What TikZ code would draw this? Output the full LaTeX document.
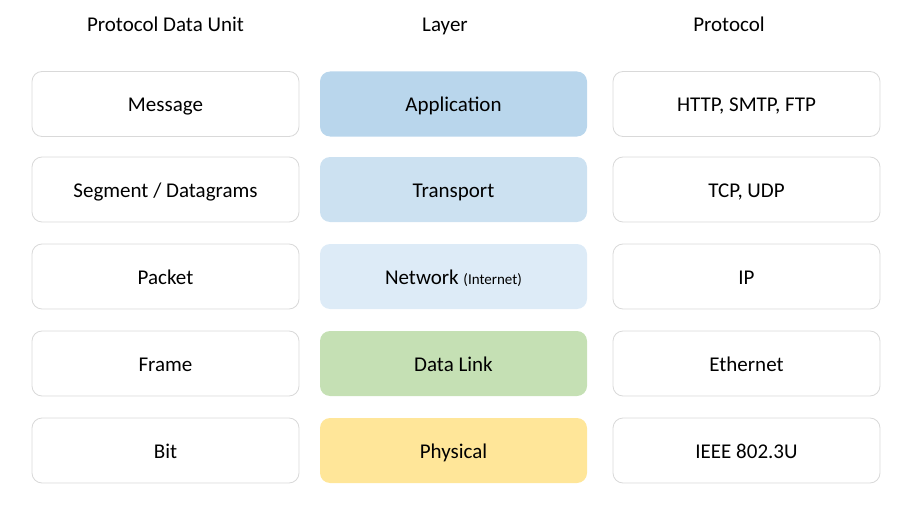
\documentclass[tikz,border=0pt]{standalone}
\usepackage{fontspec}
\setmainfont{Carlito}
\definecolor{edge}{HTML}{D9D9D9}
\definecolor{appc}{HTML}{B9D6EC}
\definecolor{trac}{HTML}{CCE1F1}
\definecolor{netc}{HTML}{DDEBF7}
\definecolor{dlc}{HTML}{C5E0B4}
\definecolor{phyc}{HTML}{FFE699}
\tikzset{
  cell/.style={rounded corners=10pt, minimum width=267pt, minimum height=65pt, inner sep=0pt, font=\fontsize{21}{24}\selectfont, text=black, text height=15.6pt, text depth=0pt},
  plain/.style={cell, draw=edge, line width=0.8pt, fill=white},
  layer/.style={cell, draw=none},
  head/.style={font=\fontsize{21}{24}\selectfont, inner sep=0pt, text height=15.6pt, text depth=0pt}
}
\begin{document}
\begin{tikzpicture}[x=1pt,y=1pt]
\useasboundingbox (0,0) rectangle (906,-511);
\node[head] (h1) at (165.5,-24) {Protocol Data Unit};
\node[head] (h2) at (445,-24) {Layer};
\node[head] (h3) at (729,-24) {Protocol};

\node[plain] (p1) at (165.5,-104) {Message};
\node[plain] (p2) at (165.5,-189.5) {Segment / Datagrams};
\node[plain] (p3) at (165.5,-276.5) {Packet};
\node[plain] (p4) at (165.5,-363.5) {Frame};
\node[plain] (p5) at (165.5,-450.5) {Bit};

\node[layer, fill=appc] (l1) at (453.5,-104) {Application};
\node[layer, fill=trac] (l2) at (453.5,-189.5) {Transport};
\node[layer, fill=netc] (l3) at (453.5,-276.5) {Network {\fontsize{15}{17}\selectfont (Internet)}};
\node[layer, fill=dlc] (l4) at (453.5,-363.5) {Data Link};
\node[layer, fill=phyc] (l5) at (453.5,-450.5) {Physical};

\node[plain] (r1) at (746.5,-104) {HTTP, SMTP, FTP};
\node[plain] (r2) at (746.5,-189.5) {TCP, UDP};
\node[plain] (r3) at (746.5,-276.5) {IP};
\node[plain] (r4) at (746.5,-363.5) {Ethernet};
\node[plain] (r5) at (746.5,-450.5) {IEEE 802.3U};
\end{tikzpicture}
\end{document}
